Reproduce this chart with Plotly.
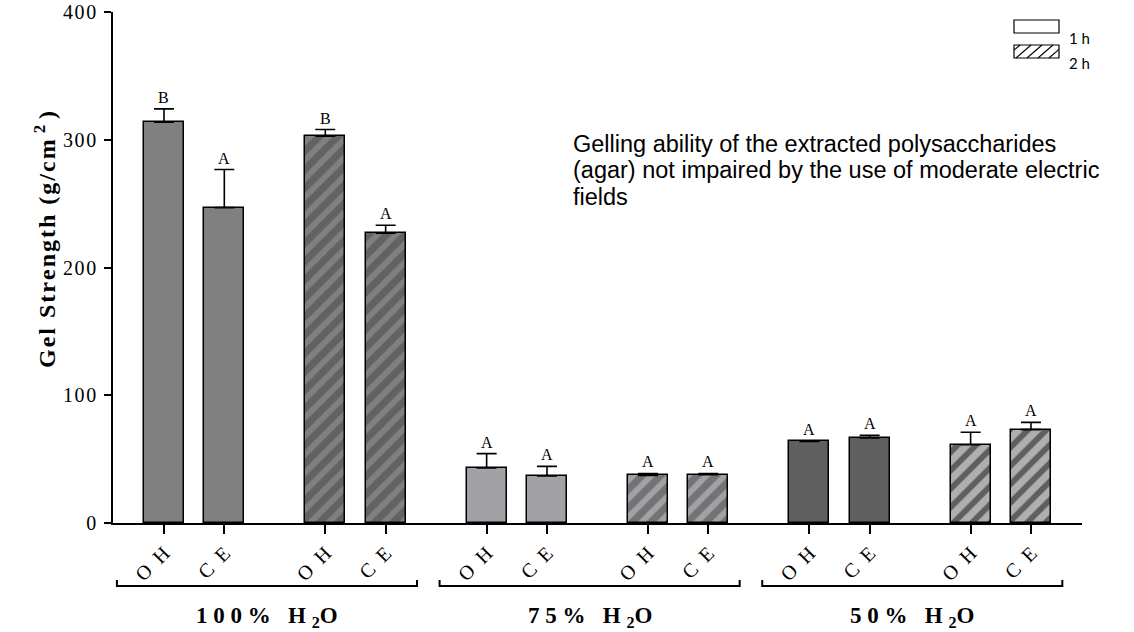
import plotly.graph_objects as go

# ---- data -------------------------------------------------------------
water = ["100%", "75%", "50%"]          # water content of the extraction medium
methods = ["OH", "CE"]                   # ohmic heating vs conventional extraction
hours = ["1 h", "2 h"]

# gel strength (g/cm^2), order: [100% OH, 100% CE, 75% OH, 75% CE, 50% OH, 50% CE]
gel_1h = [313.7, 246.9, 43.1, 36.8, 63.9, 66.6]
sd_1h = [10.5, 29.8, 11.2, 7.5, 0.4, 2.0]
gel_2h = [302.7, 226.8, 37.3, 37.8, 61.3, 73.1]
sd_2h = [5.3, 6.3, 1.5, 1.0, 9.7, 5.7]
letters_1h = ["B", "A", "A", "A", "A", "A"]
letters_2h = ["B", "A", "A", "A", "A", "A"]

y_ticks = [0, 100, 200, 300, 400]

note_lines = [
    "Gelling ability of the extracted polysaccharides",
    "(agar) not impaired by the use of moderate electric",
    "fields",
]

# ---- layout constants ---------------------------------------------------
FIG_W, FIG_H = 1134, 632
M_L, M_R, M_T, M_B = 113, 52, 12, 109
PW = FIG_W - M_L - M_R
PH = FIG_H - M_T - M_B

PAIR_STEP = 2.674
BAR_W = 0.663
X_RANGE = [-0.845, 15.216]

SERIF = "Liberation Serif, Times New Roman, serif"
SANS = "Liberation Sans, Arial, sans-serif"
fills = ["#808080", "#a2a2a6", "#5f5f5f"]


def pos(g, h, m):
    return (2 * g + h) * PAIR_STEP + m


def data_to_paper_x(x):
    return (x - X_RANGE[0]) / (X_RANGE[1] - X_RANGE[0])


def px_x(px):
    return (px - M_L) / PW


def px_y(py):
    return (FIG_H - M_B - py) / PH


def spaced(s, sep="\u2009"):
    return sep.join(s)


fig = go.Figure()

series = [(gel_1h, sd_1h, letters_1h), (gel_2h, sd_2h, letters_2h)]
annotations = []
for h, (vals, sds, lets) in enumerate(series):
    xs = [pos(g, h, m) for g in range(3) for m in range(2)]
    cols = [fills[g] for g in range(3) for m in range(2)]
    marker = dict(color=cols, line=dict(color="black", width=1.5))
    if h == 1:
        marker["pattern"] = dict(shape="/", fgcolor="black", size=13,
                                 solidity=0.55, fillmode="overlay")
    fig.add_trace(go.Bar(
        x=xs, y=vals, width=BAR_W, marker=marker, name=hours[h],
        showlegend=False,
        error_y=dict(type="data", symmetric=False, array=sds,
                     arrayminus=[0] * len(sds), color="black",
                     thickness=1.6, width=10),
    ))
    for x, v, s, t in zip(xs, vals, sds, lets):
        annotations.append(dict(
            x=x, y=v + s, xref="x", yref="y", text=t, showarrow=False,
            yanchor="bottom", yshift=1,
            font=dict(family=SERIF, size=16, color="black")))

tick_vals = sorted(pos(g, h, m) for g in range(3) for h in range(2) for m in range(2))
tick_text = [spaced(methods[i % 2], "\u2002") for i in range(len(tick_vals))]

shapes = []
# group brackets below the category labels
y_line, y_end = px_y(586), px_y(580)
for g, w in enumerate(water):
    xl = data_to_paper_x(pos(g, 0, 0) - 0.78)
    xr = data_to_paper_x(pos(g, 1, 1) + 0.52)
    shapes.append(dict(
        type="path", xref="paper", yref="paper",
        path=f"M {xl},{y_end} L {xl},{y_line} L {xr},{y_line} L {xr},{y_end}",
        line=dict(color="black", width=2)))
    label = (f"<b>{spaced(w, chr(0xA0))}\u00a0\u00a0\u00a0H\u00a0<sub>2</sub>O</b>")
    annotations.append(dict(
        x=(xl + xr) / 2, y=px_y(617), xref="paper", yref="paper",
        text=label, showarrow=False, xanchor="center", yanchor="middle",
        font=dict(family=SERIF, size=23, color="black")))

# legend boxes
bx0, bx1 = 1014, 1059
boxes = [(20, 33), (45, 58)]
for i, (t, b) in enumerate(boxes):
    shapes.append(dict(type="rect", xref="paper", yref="paper",
                       x0=px_x(bx0), x1=px_x(bx1), y0=px_y(b), y1=px_y(t),
                       line=dict(color="black", width=1.2), fillcolor="white"))
    annotations.append(dict(
        x=px_x(bx1 + 8), y=px_y(b + 5), xref="paper", yref="paper",
        text=hours[i], showarrow=False, xanchor="left", yanchor="middle",
        font=dict(family="Lato, Open Sans, sans-serif", size=15, color="black")))
    if i == 1:
        hgt = b - t
        dx = 15
        for k in range(-2, 6):
            xs0 = bx0 + 2 + k * 11
            t_lo = max(0.0, (bx0 - xs0) / dx)
            t_hi = min(1.0, (bx1 - xs0) / dx)
            if t_hi <= t_lo:
                continue
            shapes.append(dict(
                type="line", xref="paper", yref="paper",
                x0=px_x(xs0 + t_lo * dx), y0=px_y(b - t_lo * hgt),
                x1=px_x(xs0 + t_hi * dx), y1=px_y(b - t_hi * hgt),
                line=dict(color="black", width=1.1)))

# y-axis title
annotations.append(dict(
    x=px_x(45), y=px_y(240), xref="paper", yref="paper",
    text="<b>" + spaced("Gel Strength (g/cm", "\u200a") + "\u00a0<sup>2</sup>\u00a0)</b>",
    textangle=-90, showarrow=False, xanchor="center", yanchor="middle",
    font=dict(family=SERIF, size=24, color="black")))

# explanatory note
for i, line in enumerate(note_lines):
    annotations.append(dict(
        x=px_x(571), y=px_y(144 + i * 26.5), xref="paper", yref="paper",
        text=line, showarrow=False, xanchor="left", yanchor="middle",
        font=dict(family=SANS, size=23.5, color="black")))

fig.update_layout(
    width=FIG_W, height=FIG_H,
    margin=dict(l=M_L, r=M_R, t=M_T, b=M_B, autoexpand=False),
    paper_bgcolor="white", plot_bgcolor="white",
    barmode="overlay", bargap=0,
    shapes=shapes, annotations=annotations,
    xaxis=dict(range=X_RANGE, tickvals=tick_vals, ticktext=tick_text,
               tickangle=-45, ticks="outside", ticklen=9, tickwidth=1.5,
               tickcolor="black", showline=True, linewidth=1.5,
               linecolor="black", showgrid=False, zeroline=False,
               automargin=False,
               tickfont=dict(family=SERIF, size=20, color="black")),
    yaxis=dict(range=[0, 400], tickvals=y_ticks,
               ticktext=[spaced(str(v), "\u200a") for v in y_ticks],
               ticks="outside", ticklen=7, tickwidth=1.5, tickcolor="black",
               showline=True, linewidth=1.5, linecolor="black",
               showgrid=False, zeroline=False, automargin=False,
               ticklabelstandoff=4,
               tickfont=dict(family=SERIF, size=20, color="black")),
)

fig.write_html("out.html")
